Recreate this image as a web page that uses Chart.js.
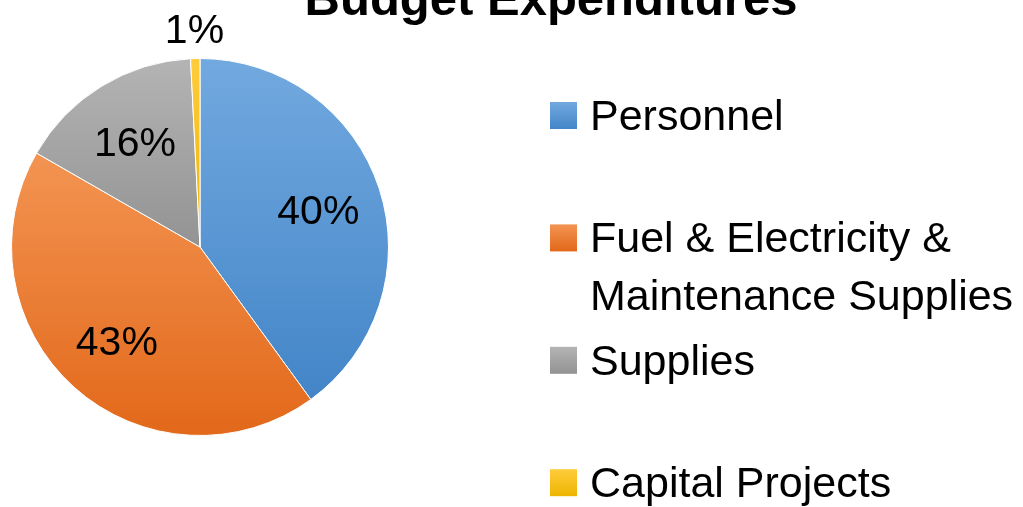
<!DOCTYPE html>
<html>
<head>
<meta charset="utf-8">
<script src="https://cdn.jsdelivr.net/npm/chart.js@4"></script>
<style>
  html, body { margin: 0; padding: 0; background: #fff; }
  #wrap { width: 1023px; height: 507px; position: relative; }
</style>
</head>
<body>
<div id="wrap"><canvas id="budget-chart"></canvas></div>
<script>
const chartTitle = 'Budget Expenditures';
const categories = ['Personnel', 'Fuel & Electricity & Maintenance Supplies', 'Supplies', 'Capital Projects'];
const shares = [40.0, 43.3, 15.9, 0.8]; // percent of total
const topColors = ['#72A9DF', '#F39452', '#B4B4B4', '#FFCC3C'];
const bottomColors = ['#4385C8', '#E2681A', '#939393', '#EDB500'];

const FONT = '"Liberation Sans", Arial, sans-serif';

// vertical gradient over each slice's own bounding box (Office style)
function sliceGradient(context) {
  const i = context.dataIndex;
  const chart = context.chart;
  const area = chart.chartArea;
  if (!area) return bottomColors[i];
  const cx = (area.left + area.right) / 2;
  const cy = (area.top + area.bottom) / 2;
  const r = Math.min(area.width, area.height) / 2;
  const total = shares.reduce((a, b) => a + b, 0);
  const before = shares.slice(0, i).reduce((a, b) => a + b, 0);
  const start = -Math.PI / 2 + before / total * Math.PI * 2;
  const end = start + shares[i] / total * Math.PI * 2;
  const ys = [cy, cy + r * Math.sin(start), cy + r * Math.sin(end)];
  for (let k = -1; k <= 2; k++) {
    const down = Math.PI / 2 + k * Math.PI * 2;
    const up = -Math.PI / 2 + k * Math.PI * 2;
    if (down > start && down < end) ys.push(cy + r);
    if (up > start && up < end) ys.push(cy - r);
  }
  const g = chart.ctx.createLinearGradient(0, Math.min(...ys), 0, Math.max(...ys) + 0.01);
  g.addColorStop(0, topColors[i]);
  g.addColorStop(1, bottomColors[i]);
  return g;
}

const pieDecorations = {
  id: 'pieDecorations',
  afterDatasetsDraw(chart) {
    const ctx = chart.ctx;
    const meta = chart.getDatasetMeta(0);
    const total = shares.reduce((a, b) => a + b, 0);
    ctx.save();
    ctx.fillStyle = '#000';
    ctx.font = '41px ' + FONT;
    ctx.textAlign = 'center';
    ctx.textBaseline = 'alphabetic';
    meta.data.forEach((arc, i) => {
      const p = arc.getProps(['x', 'y', 'startAngle', 'endAngle', 'outerRadius'], true);
      const mid = (p.startAngle + p.endAngle) / 2;
      const pct = shares[i] / total * 100;
      const dist = pct < 3 ? p.outerRadius + 31 : p.outerRadius * 0.66;
      const lx = p.x + Math.cos(mid) * dist;
      const ly = p.y + Math.sin(mid) * dist;
      ctx.fillText(Math.round(pct) + '%', lx, ly + 15);
    });
    ctx.restore();
  },
  afterDraw(chart) {
    const ctx = chart.ctx;
    ctx.save();
    // title (cut off at the top, as in the original)
    ctx.fillStyle = '#000';
    ctx.font = 'bold 49px ' + FONT;
    ctx.textAlign = 'center';
    ctx.textBaseline = 'alphabetic';
    ctx.fillText(chartTitle, 551, 15);

    // legend
    ctx.font = '43px ' + FONT;
    ctx.textAlign = 'left';
    const maxWidth = 430;
    categories.forEach((name, i) => {
      const base = 130 + 122.4 * i;
      const g = ctx.createLinearGradient(0, base - 28, 0, base - 1);
      g.addColorStop(0, topColors[i]);
      g.addColorStop(1, bottomColors[i]);
      ctx.fillStyle = g;
      ctx.fillRect(550, base - 28, 27, 27);

      // simple word wrap
      const words = name.split(' ');
      const lines = [];
      let line = '';
      words.forEach(w => {
        const test = line ? line + ' ' + w : w;
        if (line && ctx.measureText(test).width > maxWidth) {
          lines.push(line);
          line = w;
        } else {
          line = test;
        }
      });
      lines.push(line);
      ctx.fillStyle = '#000';
      lines.forEach((t, j) => ctx.fillText(t, 590, base + j * 58));
    });
    ctx.restore();
  }
};

new Chart(document.getElementById('budget-chart'), {
  type: 'pie',
  data: {
    labels: categories,
    datasets: [{
      data: shares,
      backgroundColor: sliceGradient,
      borderColor: '#ffffff',
      borderWidth: 1
    }]
  },
  options: {
    responsive: true,
    maintainAspectRatio: false,
    animation: false,
    layout: { padding: { left: 11, top: 58, right: 634, bottom: 71 } },
    plugins: {
      legend: { display: false },
      tooltip: { enabled: false },
      title: { display: false }
    }
  },
  plugins: [pieDecorations]
});
</script>
</body>
</html>
